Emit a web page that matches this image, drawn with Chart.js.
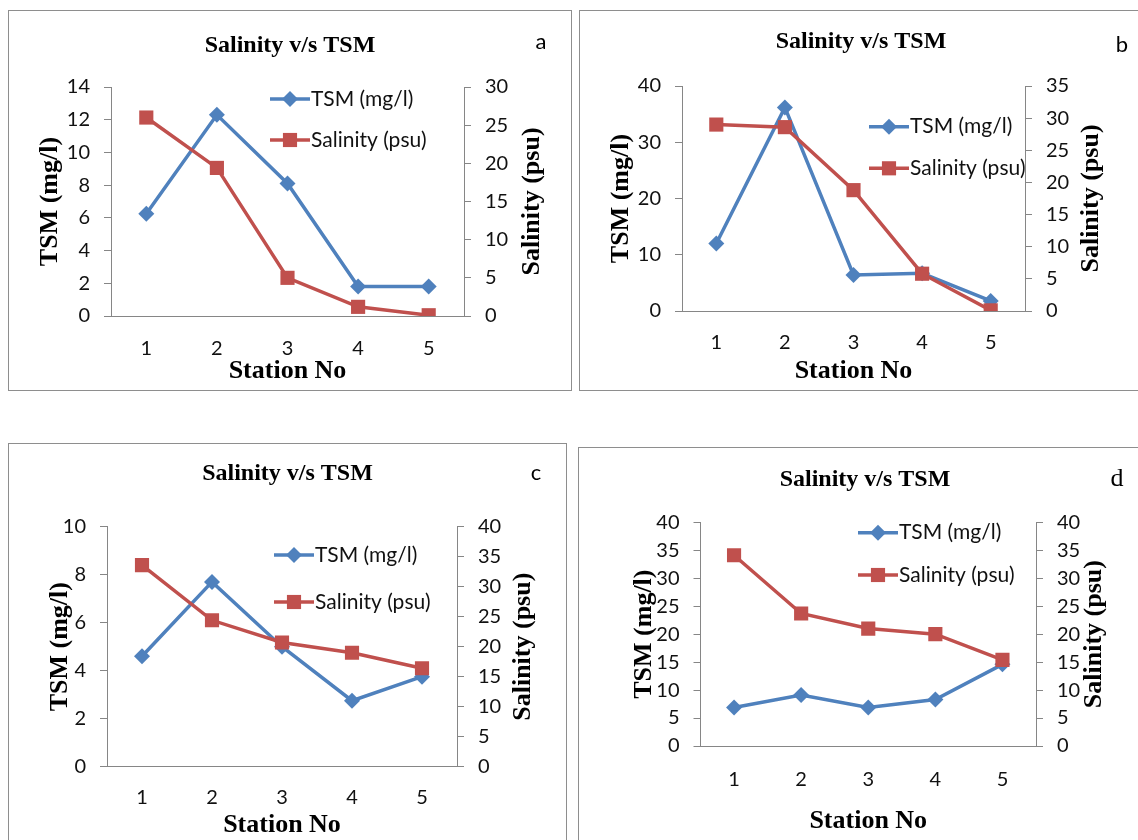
<!DOCTYPE html>
<html>
<head>
<meta charset="utf-8">
<script src="https://cdn.jsdelivr.net/npm/chart.js@4.4.1/dist/chart.umd.min.js"></script>
<style>
  html, body { margin: 0; padding: 0; background: #fff; width: 1138px; height: 840px; overflow: hidden; }
  .panel { position: absolute; border: 1px solid #8e8e8e; background: #fff; }
  .panel canvas { display: block; }
</style>
</head>
<body>
<div class="panel" style="left:8px;top:10px;width:562px;height:379px"><canvas id="chartA" width="562" height="379"></canvas></div>
<div class="panel" style="left:579px;top:10px;width:562px;height:379px"><canvas id="chartB" width="562" height="379"></canvas></div>
<div class="panel" style="left:8px;top:443px;width:557px;height:400px"><canvas id="chartC" width="557" height="400"></canvas></div>
<div class="panel" style="left:578px;top:447px;width:572px;height:400px"><canvas id="chartD" width="572" height="400"></canvas></div>

<script>
// stations sampled
const stations = ["1", "2", "3", "4", "5"];

// TSM (mg/l) and salinity (psu) per station, panels a-d
const tsmA = [6.25, 12.3, 8.1, 1.8, 1.8];
const salA = [26, 19.4, 5, 1.2, 0.1];
const tsmB = [12, 36.2, 6.4, 6.7, 1.8];
const salB = [29, 28.6, 18.8, 5.8, 0.1];
const tsmC = [4.6, 7.7, 5.0, 2.75, 3.75];
const salC = [33.6, 24.4, 20.7, 19, 16.4];
const tsmD = [6.9, 9.1, 6.9, 8.3, 14.6];
const salD = [34.1, 23.7, 21, 20, 15.4];

// axis [max, step]
const tsmAxisA = [14, 2],  salAxisA = [30, 5];
const tsmAxisB = [40, 10], salAxisB = [35, 5];
const tsmAxisC = [10, 2],  salAxisC = [40, 5];
const tsmAxisD = [40, 5],  salAxisD = [40, 5];

const panelTags = ["a", "b", "c", "d"];
const chartTitle = "Salinity v/s TSM";
const xTitle = "Station No";
const tsmTitle = "TSM (mg/l)";
const salTitle = "Salinity (psu)";
const tsmLabel = "TSM (mg/l)";
const salLabel = "Salinity (psu)";

const BLUE = "#4F81BD";
const RED = "#C0504D";
const AXIS = "#868686";
const TXT = "#111";
const SERIF = "'Liberation Serif', 'Times New Roman', serif";
const SANS = "Lato, 'Liberation Sans', sans-serif";

function drawMarker(ctx, style, x, y, r, color) {
  ctx.fillStyle = color;
  ctx.beginPath();
  if (style === "rectRot") {
    ctx.moveTo(x - r, y); ctx.lineTo(x, y - r); ctx.lineTo(x + r, y); ctx.lineTo(x, y + r);
  } else {
    const s = r * Math.SQRT1_2;
    ctx.rect(x - s, y - s, 2 * s, 2 * s);
  }
  ctx.closePath();
  ctx.fill();
}

// legend drawn inside the plot area, line + marker + label
const insetLegend = {
  id: "insetLegend",
  afterDatasetsDraw(chart, args, o) {
    const ctx = chart.ctx;
    chart.data.datasets.forEach((ds, i) => {
      const y = o.rows[i];
      ctx.save();
      ctx.strokeStyle = ds.borderColor;
      ctx.lineWidth = ds.borderWidth;
      ctx.beginPath();
      ctx.moveTo(o.x, y);
      ctx.lineTo(o.x + o.len, y);
      ctx.stroke();
      drawMarker(ctx, ds.pointStyle, o.x + o.len / 2, y, ds.pointRadius, ds.borderColor);
      ctx.fillStyle = TXT;
      ctx.font = "21px " + SANS;
      ctx.textAlign = "left";
      ctx.textBaseline = "middle";
      ctx.fillText(ds.label, o.textX, y);
      ctx.restore();
    });
  }
};

// secondary axis title, reading bottom to top
const sideTitle = {
  id: "sideTitle",
  afterDraw(chart, args, o) {
    const ctx = chart.ctx;
    const area = chart.chartArea;
    ctx.save();
    ctx.translate(o.x, (area.top + area.bottom) / 2);
    ctx.rotate(-Math.PI / 2);
    ctx.font = "bold 26px " + SERIF;
    ctx.fillStyle = "#000";
    ctx.textAlign = "center";
    ctx.textBaseline = "middle";
    ctx.fillText(o.text, 0, 0);
    ctx.restore();
  }
};

const panelTag = {
  id: "panelTag",
  afterDraw(chart, args, o) {
    const ctx = chart.ctx;
    ctx.save();
    ctx.font = o.font;
    ctx.fillStyle = "#000";
    ctx.textAlign = "center";
    ctx.textBaseline = "middle";
    ctx.fillText(o.text, o.x, o.y);
    ctx.restore();
  }
};

function buildPanel(id, tsm, sal, tsmAxis, salAxis, tag, b) {
  const canvas = document.getElementById(id);
  const W = canvas.width, H = canvas.height;
  const tickFont = { family: SANS, size: 20 };
  const axisTitleFont = { family: SERIF, size: 26, weight: "bold" };
  return new Chart(canvas, {
    type: "line",
    data: {
      labels: stations,
      datasets: [{
        label: tsmLabel,
        data: tsm,
        yAxisID: "y",
        order: 1,
        borderColor: BLUE,
        backgroundColor: BLUE,
        borderWidth: 3.5,
        pointStyle: "rectRot",
        pointRadius: 8,
        pointBackgroundColor: BLUE,
        pointBorderColor: BLUE,
        pointBorderWidth: 0,
        tension: 0
      }, {
        label: salLabel,
        data: sal,
        yAxisID: "y2",
        order: 0,
        borderColor: RED,
        backgroundColor: RED,
        borderWidth: 3.5,
        pointStyle: "rect",
        pointRadius: 10,
        pointBackgroundColor: RED,
        pointBorderColor: RED,
        pointBorderWidth: 0,
        tension: 0
      }]
    },
    options: {
      responsive: false,
      animation: false,
      layout: { padding: 0 },
      plugins: {
        legend: { display: false },
        tooltip: { enabled: false },
        title: {
          display: true,
          text: chartTitle,
          color: "#000",
          font: { family: SERIF, size: 24, weight: "bold" },
          padding: { top: b.titleTop, bottom: b.T - b.titleTop - 28.8 }
        },
        insetLegend: b.legend,
        sideTitle: { text: salTitle, x: b.rightTitle },
        panelTag: { text: tag, x: b.tag[0], y: b.tag[1], font: b.tag[2] }
      },
      scales: {
        x: {
          offset: true,
          grid: { display: false },
          border: { color: AXIS, width: 1 },
          ticks: { color: TXT, font: tickFont, padding: b.xTickPad },
          title: {
            display: true, text: xTitle, color: "#000", font: axisTitleFont,
            padding: { top: 0, bottom: b.xTitlePad }
          },
          afterFit(s) { s.height = H - b.B; }
        },
        y: {
          position: "left",
          min: 0, max: tsmAxis[0],
          grid: { drawOnChartArea: false, tickLength: 7, color: AXIS },
          border: { color: AXIS, width: 1 },
          ticks: { stepSize: tsmAxis[1], color: TXT, font: tickFont, padding: 14 },
          title: {
            display: true, text: tsmTitle, color: "#000", font: axisTitleFont,
            padding: { top: b.leftTitle - 15.6, bottom: 0 }
          },
          afterFit(s) { s.width = b.L; }
        },
        y2: {
          position: "right",
          min: 0, max: salAxis[0],
          grid: { drawOnChartArea: false, tickLength: 7, color: AXIS },
          border: { color: AXIS, width: 1 },
          ticks: { stepSize: salAxis[1], color: TXT, font: tickFont, padding: 14 },
          afterFit(s) { s.width = W - b.R; }
        }
      }
    },
    plugins: [insetLegend, sideTitle, panelTag]
  });
}

buildPanel("chartA", tsmA, salA, tsmAxisA, salAxisA, panelTags[0], {
  L: 102, R: 455, T: 76, B: 305,
  titleTop: 20.6, leftTitle: 41, rightTitle: 523,
  xTickPad: 13, xTitlePad: 2.7,
  legend: { x: 261, len: 40, rows: [88, 129], textX: 302 },
  tag: [532, 31, "22px " + SANS]
});

buildPanel("chartB", tsmB, salB, tsmAxisB, salAxisB, panelTags[1], {
  L: 102, R: 445, T: 75, B: 300,
  titleTop: 16.3, leftTitle: 41, rightTitle: 511,
  xTickPad: 12, xTitlePad: 3.4,
  legend: { x: 289, len: 40, rows: [115.7, 157.3], textX: 330 },
  tag: [542, 34, "22px " + SANS]
});

buildPanel("chartC", tsmC, salC, tsmAxisC, salAxisC, panelTags[2], {
  L: 98, R: 448, T: 82.7, B: 322.7,
  titleTop: 14.9, leftTitle: 51, rightTitle: 514,
  xTickPad: 11, xTitlePad: 3.4,
  legend: { x: 265, len: 40, rows: [111, 158], textX: 306 },
  tag: [527, 29, "22px " + SANS]
});

buildPanel("chartD", tsmD, salD, tsmAxisD, salAxisD, panelTags[3], {
  L: 121.5, R: 457, T: 74.3, B: 298,
  titleTop: 16.9, leftTitle: 65, rightTitle: 515.5,
  xTickPad: 13.5, xTitlePad: 10.7,
  legend: { x: 279, len: 40, rows: [84.7, 127], textX: 320 },
  tag: [538, 31, "26px " + SERIF]
});
</script>
</body>
</html>
